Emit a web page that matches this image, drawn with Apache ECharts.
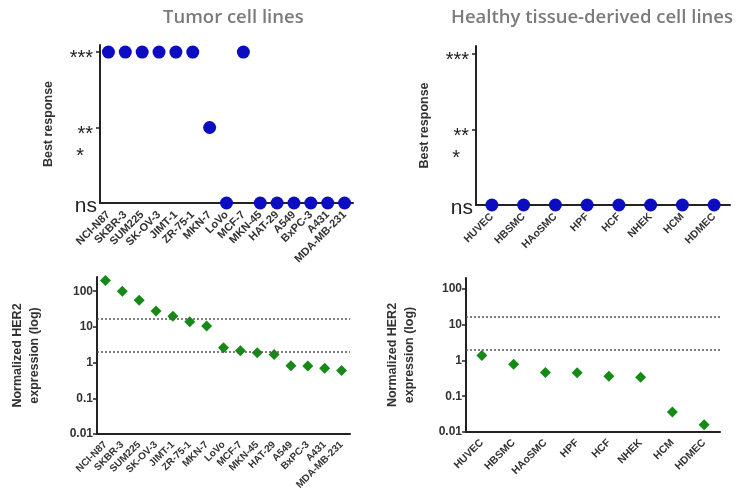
<!DOCTYPE html>
<html>
<head>
<meta charset="utf-8">
<script src="https://cdn.jsdelivr.net/npm/echarts@6/dist/echarts.min.js"></script>
<style>
  html, body { margin: 0; padding: 0; background: #fff; }
  #chart { width: 741px; height: 499px; }
</style>
</head>
<body>
<div id="chart"></div>
<script>
// cell lines
var tumorLines = ['NCI-N87', 'SKBR-3', 'SUM225', 'SK-OV-3', 'JIMT-1', 'ZR-75-1', 'MKN-7', 'LoVo', 'MCF-7', 'MKN-45', 'HAT-29', 'A549', 'BxPC-3', 'A431', 'MDA-MB-231'];
var healthyLines = ['HUVEC', 'HBSMC', 'HAoSMC', 'HPF', 'HCF', 'NHEK', 'HCM', 'HDMEC'];

// best response (significance level)
var tumorResponse = ['***', '***', '***', '***', '***', '***', '**', 'ns', '***', 'ns', 'ns', 'ns', 'ns', 'ns', 'ns'];
var healthyResponse = ['ns', 'ns', 'ns', 'ns', 'ns', 'ns', 'ns', 'ns'];
var responseLevels = ['ns', '*', '**', '***'];
var responsePos = [0, 1.05, 1.5, 3];

// normalized HER2 expression
var tumorHer2 = [200, 100, 56, 28, 20, 14, 10.6, 2.6, 2.15, 1.9, 1.7, 0.82, 0.8, 0.69, 0.6];
var healthyHer2 = [1.38, 0.78, 0.46, 0.45, 0.36, 0.34, 0.036, 0.016];
var her2Ticks = [0.01, 0.1, 1, 10, 100];
var cutoffs = [16.5, 2];

var axisColor = '#222';
var textColor = '#333';
var blue = '#0c0cc0';
var green = '#168a16';

function toPos(arr) {
    return arr.map(function (r) { return responsePos[responseLevels.indexOf(r)]; });
}

function catAxis(idx, names, size, margin) {
    return {
        type: 'category',
        gridIndex: idx,
        data: names,
        axisLine: { lineStyle: { color: axisColor, width: 2 } },
        axisTick: { alignWithLabel: true, length: 3, lineStyle: { color: axisColor, width: 1.5 } },
        axisLabel: {
            interval: 0, rotate: 45, margin: margin,
            fontFamily: 'Liberation Sans', fontWeight: 'bold', fontSize: size, color: textColor
        }
    };
}

function responseAxis(idx, max) {
    return {
        type: 'value',
        gridIndex: idx,
        min: 0,
        max: max,
        name: 'Best response',
        nameLocation: 'middle',
        nameGap: 45,
        nameRotate: 90,
        nameTextStyle: { fontFamily: 'Liberation Sans', fontWeight: 'bold', fontSize: 12.5, color: textColor },
        splitLine: { show: false },
        axisLine: { show: true, lineStyle: { color: axisColor, width: 2 } },
        axisTick: { show: true, length: 4, customValues: [1.5, 3], lineStyle: { color: axisColor, width: 1.5 } },
        axisLabel: {
            margin: 3,
            customValues: responsePos,
            formatter: function (v) {
                var lv = responseLevels[responsePos.indexOf(v)];
                if (lv === 'ns') return '{ns|ns}';
                if (lv === '*') return '{one|*}';
                return '{st|' + lv + '}';
            },
            rich: {
                ns: { fontFamily: 'Liberation Sans', fontSize: 21, color: '#222', padding: [6, 0, 0, 0] },
                st: { fontFamily: 'Liberation Sans', fontSize: 20, color: '#222', padding: [13, 4, 0, 0] },
                one: { fontFamily: 'Liberation Sans', fontSize: 20, color: '#222', padding: [13, 13, 0, 0] }
            }
        }
    };
}

function her2Axis(idx, max, gap) {
    return {
        type: 'log',
        logBase: 10,
        gridIndex: idx,
        min: 0.01,
        max: max,
        name: 'Normalized HER2\nexpression (log)',
        nameLocation: 'middle',
        nameGap: gap,
        nameRotate: 90,
        nameTextStyle: { fontFamily: 'Liberation Sans', fontWeight: 'bold', fontSize: 12.5, color: textColor, lineHeight: 17 },
        splitLine: { show: false },
        axisLine: { show: true, lineStyle: { color: axisColor, width: 2 } },
        axisTick: { show: true, length: 4, customValues: her2Ticks, lineStyle: { color: axisColor, width: 1.5 } },
        axisLabel: {
            margin: 4,
            customValues: her2Ticks,
            formatter: function (v) { return String(v); },
            fontFamily: 'Liberation Sans', fontWeight: 'bold', fontSize: 12, color: textColor
        }
    };
}

function cutoffLines() {
    return {
        silent: true,
        symbol: 'none',
        label: { show: false },
        lineStyle: { type: [2, 2], color: '#555', width: 1.5 },
        data: cutoffs.map(function (c) { return { yAxis: c }; })
    };
}

var titleStyle = { fontFamily: 'Open Sans', fontWeight: 600, fontSize: 18.5, color: '#7b7b7b' };

var option = {
    animation: false,
    backgroundColor: '#fff',
    title: [
        { text: 'Tumor cell lines', left: 158, top: 3, textStyle: titleStyle },
        { text: 'Healthy tissue-derived cell lines', left: 446, top: 3, textStyle: titleStyle }
    ],
    grid: [
        { left: 100, top: 45, width: 253, height: 158 },
        { left: 476, top: 46, width: 254, height: 159 },
        { left: 97, top: 277, width: 253, height: 157 },
        { left: 466, top: 278, width: 254, height: 154 }
    ],
    xAxis: [
        catAxis(0, tumorLines, 11, 10),
        catAxis(1, healthyLines, 10.5, 10),
        catAxis(2, tumorLines, 10, 9),
        catAxis(3, healthyLines, 10.5, 9)
    ],
    yAxis: [
        responseAxis(0, 3.14),
        responseAxis(1, 3.16),
        her2Axis(2, 250, 54),
        her2Axis(3, 200, 48)
    ],
    series: [
        {
            type: 'scatter', xAxisIndex: 0, yAxisIndex: 0, clip: false,
            symbol: 'circle', symbolSize: 13, itemStyle: { color: blue, opacity: 1 },
            data: toPos(tumorResponse)
        },
        {
            type: 'scatter', xAxisIndex: 1, yAxisIndex: 1, clip: false,
            symbol: 'circle', symbolSize: 13, itemStyle: { color: blue, opacity: 1 },
            data: toPos(healthyResponse)
        },
        {
            type: 'scatter', xAxisIndex: 2, yAxisIndex: 2, clip: false,
            symbol: 'diamond', symbolSize: 11, itemStyle: { color: green, opacity: 1 },
            data: tumorHer2,
            markLine: cutoffLines()
        },
        {
            type: 'scatter', xAxisIndex: 3, yAxisIndex: 3, clip: false,
            symbol: 'diamond', symbolSize: 11, itemStyle: { color: green, opacity: 1 },
            data: healthyHer2,
            markLine: cutoffLines()
        }
    ]
};

var chart = echarts.init(document.getElementById('chart'));
chart.setOption(option);
</script>
</body>
</html>
